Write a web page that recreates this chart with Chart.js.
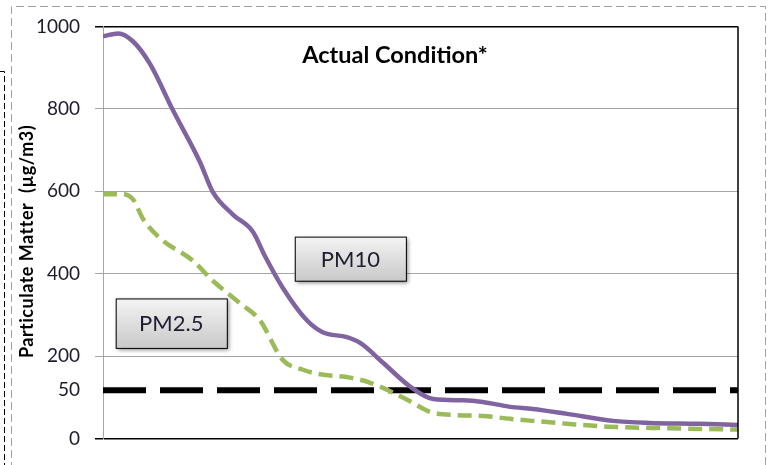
<!DOCTYPE html>
<html>
<head>
<meta charset="utf-8">
<script src="https://cdn.jsdelivr.net/npm/chart.js@4.4.0/dist/chart.umd.min.js"></script>
<style>
body { margin: 0; background: #fff; }
#wrap { width: 770px; height: 465px; position: relative; }
</style>
</head>
<body>
<div id="wrap"><canvas id="myChart"></canvas></div>
<script>
// distance along the (hidden) x axis, 0 - 100
const pm10X = [0, 2.4, 4.7, 7.4, 11.0, 15.3, 17.3, 20.5, 23.6, 25.5, 28.3, 32.1, 34.6, 38.4, 40.5, 44.1, 48.3, 52.0, 56.7, 59.8, 64.1, 67.7, 73.1, 80.3, 86.1, 94.0, 100];
const pm10Y = [976, 983, 964, 909, 797, 670, 598, 543, 502, 443, 366, 287, 258, 246, 232, 184, 127, 96, 93, 89, 77, 72, 60, 43, 38, 36, 33];
const pm25X = [0, 3.1, 4.7, 6.3, 9.0, 14.2, 17.3, 21.6, 24.7, 28.3, 31.5, 34.2, 38.9, 42.0, 45.2, 48.3, 51.5, 55.7, 59.8, 64.1, 67.7, 73.1, 79.4, 86.1, 100];
const pm25Y = [593, 593, 581, 533, 486, 431, 383, 328, 287, 191, 167, 156, 148, 136, 115, 91, 65, 57, 55, 48, 43, 36, 29, 26, 22];

// limit line, sits on the axis where the "50" label is
const limitX = [0, 100];
const limitY = [117, 117];

const yTickValues = [0, 117, 200, 400, 600, 800, 1000];
const yTickLabels = ['0', '50', '200', '400', '600', '800', '1000'];

const chartTitle = 'Actual Condition*';
const yTitle = 'Particulate Matter  (\u00b5g/m3)';
const seriesNames = ['PM10', 'PM2.5'];

function toPoints(xs, ys) {
    let pts = [];
    xs.forEach((x, i) => pts.push({ x: x, y: ys[i] }));
    return pts;
}

// frame, titles and the two label boxes
const extras = {
    id: 'extras',
    beforeDraw(chart) {
        const ctx = chart.ctx;
        ctx.save();
        ctx.strokeStyle = '#a0a0a0';
        ctx.lineWidth = 1;
        ctx.setLineDash([8, 4]);
        ctx.beginPath();
        ctx.moveTo(11.5, 470);
        ctx.lineTo(11.5, 6.5);
        ctx.lineTo(765.5, 6.5);
        ctx.lineTo(765.5, 470);
        ctx.stroke();
        ctx.strokeStyle = '#000';
        ctx.setLineDash([6, 3]);
        ctx.beginPath();
        ctx.moveTo(0, 71.5);
        ctx.lineTo(4.5, 71.5);
        ctx.lineTo(4.5, 465);
        ctx.stroke();
        ctx.restore();
    },
    afterDatasetsDraw(chart) {
        const ctx = chart.ctx;
        const a = chart.chartArea;
        const x = chart.scales.x;
        const y = chart.scales.y;
        ctx.save();
        // right border of the plot
        ctx.strokeStyle = '#000';
        ctx.lineWidth = 1.5;
        ctx.beginPath();
        ctx.moveTo(a.right, a.top);
        ctx.lineTo(a.right, a.bottom);
        ctx.stroke();

        ctx.fillStyle = '#000';
        ctx.font = 'bold 23.5px Lato';
        ctx.textAlign = 'center';
        ctx.textBaseline = 'middle';
        ctx.fillText(chartTitle, a.left + 292, a.top + 29);

        // y axis title
        ctx.save();
        ctx.translate(27, (a.top + a.bottom) / 2 + 9);
        ctx.rotate(-Math.PI / 2);
        ctx.font = 'bold 18px Lato';
        ctx.letterSpacing = '0.5px';
        ctx.fillText(yTitle, 0, 0);
        ctx.restore();

        const boxes = [
            { text: seriesNames[0], x0: 30.2, x1: 47.7, y0: 490, y1: 383 },
            { text: seriesNames[1], x0: 2.0, x1: 19.5, y0: 340, y1: 220 }
        ];
        boxes.forEach(b => {
            const l = x.getPixelForValue(b.x0), r = x.getPixelForValue(b.x1);
            const t = y.getPixelForValue(b.y0), bt = y.getPixelForValue(b.y1);
            const g = ctx.createLinearGradient(0, t, 0, bt);
            g.addColorStop(0, '#f4f4f4');
            g.addColorStop(1, '#c9c9c9');
            ctx.save();
            ctx.shadowColor = 'rgba(0,0,0,0.45)';
            ctx.shadowBlur = 4;
            ctx.shadowOffsetX = 2;
            ctx.shadowOffsetY = 2;
            ctx.fillStyle = g;
            ctx.fillRect(l, t, r - l, bt - t);
            ctx.restore();
            ctx.strokeStyle = '#000';
            ctx.lineWidth = 1;
            ctx.strokeRect(l + 0.5, t + 0.5, r - l, bt - t);
            ctx.fillStyle = '#1e1e30';
            ctx.font = '22px Lato';
            ctx.fillText(b.text, (l + r) / 2, (t + bt) / 2 + 1);
        });
        ctx.restore();
    }
};

const ctx = document.getElementById('myChart');
new Chart(ctx, {
    type: 'line',
    data: {
        datasets: [
            {
                label: seriesNames[0],
                data: toPoints(pm10X, pm10Y),
                borderColor: '#8064a2',
                borderWidth: 4.5,
                cubicInterpolationMode: 'monotone',
                pointRadius: 0,
                order: 1
            },
            {
                label: seriesNames[1],
                data: toPoints(pm25X, pm25Y),
                borderColor: '#9bbb59',
                borderWidth: 4.5,
                borderDash: [14, 7],
                cubicInterpolationMode: 'monotone',
                pointRadius: 0,
                order: 2
            },
            {
                label: 'limit',
                data: toPoints(limitX, limitY),
                borderColor: '#000',
                borderWidth: 6,
                borderDash: [43, 14],
                pointRadius: 0,
                order: 3
            }
        ]
    },
    options: {
        responsive: true,
        maintainAspectRatio: false,
        animation: false,
        layout: { padding: { left: 0, right: 32, top: 22, bottom: 24 } },
        plugins: { legend: { display: false }, tooltip: { enabled: false } },
        scales: {
            x: { type: 'linear', min: 0, max: 100, display: false },
            y: {
                min: 0,
                max: 1000,
                afterBuildTicks: s => { s.ticks = yTickValues.map(v => ({ value: v })); },
                afterFit: s => { s.width = 103; },
                ticks: {
                    padding: 15,
                    color: '#1c1c2c',
                    font: { family: 'Lato', size: 19 },
                    callback: (v) => yTickLabels[yTickValues.indexOf(v)]
                },
                grid: {
                    tickLength: 8,
                    color: c => {
                        if (c.tick.value === 117) return 'rgba(0,0,0,0)';
                        if (c.tick.value === 0 || c.tick.value === 1000) return '#000';
                        return '#a6a6a6';
                    },
                    lineWidth: c => (c.tick.value === 0 || c.tick.value === 1000) ? 1.5 : 1
                },
                border: { color: '#a6a6a6', width: 1 }
            }
        }
    },
    plugins: [extras]
});
</script>
</body>
</html>
